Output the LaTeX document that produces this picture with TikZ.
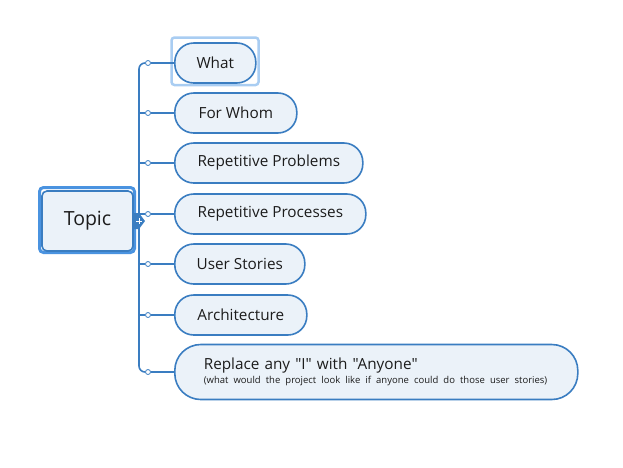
\documentclass[tikz,border=0pt]{standalone}
\usepackage{fontspec}
\newfontfamily\mapfont{Open Sans}
\usetikzlibrary{positioning,calc}

\definecolor{mapblue}{HTML}{3A7DC1}
\definecolor{mapfill}{HTML}{EBF2F9}
\definecolor{selblue}{HTML}{A9CDF2}
\definecolor{ringblue}{HTML}{4A93E0}
\definecolor{mapink}{HTML}{1C1C1C}

\begin{document}
\begin{tikzpicture}[x=1pt,y=-1pt,
    topicbox/.style={draw=mapblue, fill=mapfill, line width=1.6pt, rounded corners=5pt,
      minimum width=91pt, minimum height=60pt, text=mapink, font=\mapfont\fontsize{19.5}{22}\selectfont},
    subbox/.style={draw=mapblue, fill=mapfill, line width=1.6pt, rounded corners=19pt,
      minimum height=40pt, anchor=west, text=mapink, font=\mapfont\fontsize{15.3}{18}\selectfont},
    knob/.style={circle, draw=mapblue, fill=white, line width=0.8pt, inner sep=0pt, minimum size=5pt},
    branch/.style={draw=mapblue, line width=1.6pt}]

    \useasboundingbox (0,0) rectangle (623,467);

    % Draw central topic
    \draw[ringblue, line width=3pt, rounded corners=4pt] (39.5,187.5) rectangle (134.5,252.5);
    \node[topicbox] (topic) at (87.5,221) {Topic};
    \coordinate (hub) at (139,221);

    % Draw subtopics
    \draw[selblue, line width=2.5pt, rounded corners=3pt] (171.5,37.5) rectangle (258.5,85);
    \node[subbox, minimum width=81pt] (what) at (174,63) {What};
    \node[subbox, minimum width=122pt] (whom) at (174,113) {For Whom};
    \node[subbox, minimum width=188pt] (problems) at (174,163) {Repetitive Problems};
    \node[subbox, minimum width=191pt] (processes) at (174,214) {Repetitive Processes};
    \node[subbox, minimum width=130pt] (stories) at (174,264) {User Stories};
    \node[subbox, minimum width=132pt] (arch) at (174,315) {Architecture};
    \node[subbox, minimum height=55pt, rounded corners=26pt, text width=345pt, inner xsep=29pt,
      align=left] (anyone) at (174,372)
      {Replace any "I" with "Anyone"\\[-4pt]
       \mbox{\fontsize{9.5}{11}\selectfont (what would the project look like if anyone could do those user stories)}};

    % Draw knobs
    \foreach \n/\y in {k1/63,k2/113,k3/163,k4/214,k5/264,k6/315,k7/372}
      \node[knob] (\n) at (148,\y) {};

    % Draw branches
    \draw[branch] (topic.east) -- (hub);
    \draw[branch, rounded corners=6pt] (k1.west) -| (hub) |- (k7.west);
    \foreach \n in {k2,k3,k4,k5,k6}
      \draw[branch] (hub |- \n) -- (\n.west);
    \foreach \n/\t in {k1/what,k2/whom,k3/problems,k4/processes,k5/stories,k6/arch,k7/anyone}
      \draw[branch] (\n.east) -- (\t.west);

    % Draw expand marker
    \fill[mapblue] (133,213) -- (139,213) -- (145,221) -- (139,229) -- (133,229) -- cycle;
    \draw[white, line width=1pt] (136,221) -- (142,221) (139,218) -- (139,224);
\end{tikzpicture}
\end{document}
